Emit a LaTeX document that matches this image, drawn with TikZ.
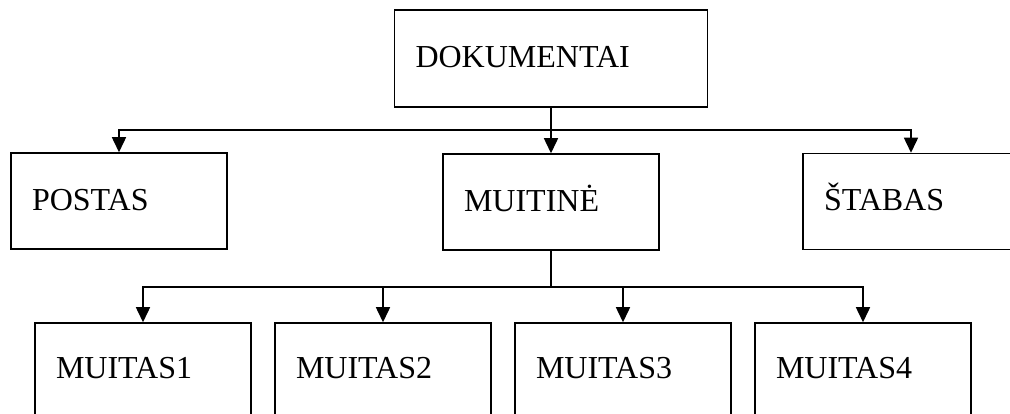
\documentclass[tikz,border=0pt]{standalone}
\usepackage{fontspec}
\setmainfont{Liberation Serif}
\usetikzlibrary{arrows.meta}
\begin{document}
\begin{tikzpicture}[x=1pt,y=-1pt,
  orgbox/.style={draw, line width=1.5pt, rectangle, inner xsep=21pt, inner ysep=0pt,
    text width=#1, align=left, minimum height=96pt,
    font=\fontsize{32}{38}\selectfont, text height=22pt, text depth=3pt},
  orgbox/.default=174pt,
  link/.style={line width=1.5pt},
  arr/.style={link, -{Triangle[width=14pt,length=15pt]}}]
\useasboundingbox (0,0) rectangle (1010,414);
\clip (0,0) rectangle (1010,414);

% top level
\node[orgbox=271pt, minimum height=97pt] (dok) at (551,58.5) {DOKUMENTAI};

% second level
\node[orgbox] (postas)  at (119,201)   {POSTAS};
\node[orgbox] (muitine) at (551,202)   {MUITINĖ};
\node[orgbox] (stabas)  at (911,201.5) {ŠTABAS};

% third level
\node[orgbox, minimum height=92pt] (m1) at (143,369) {MUITAS1};
\node[orgbox, minimum height=92pt] (m2) at (383,369) {MUITAS2};
\node[orgbox, minimum height=92pt] (m3) at (623,369) {MUITAS3};
\node[orgbox, minimum height=92pt] (m4) at (863,369) {MUITAS4};

% junctions of the two buses
\coordinate (j1) at (551,130);
\coordinate (j2) at (551,287);

\draw[link] (dok.south) -- (j1);
\draw[arr] (j1) -| (postas.north);
\draw[arr] (j1) -| (stabas.north);
\draw[arr] (j1) -- (muitine.north);

\draw[link] (muitine.south) -- (j2);
\draw[arr] (j2) -| (m1.north);
\draw[arr] (j2) -| (m2.north);
\draw[arr] (j2) -| (m3.north);
\draw[arr] (j2) -| (m4.north);
\end{tikzpicture}
\end{document}
